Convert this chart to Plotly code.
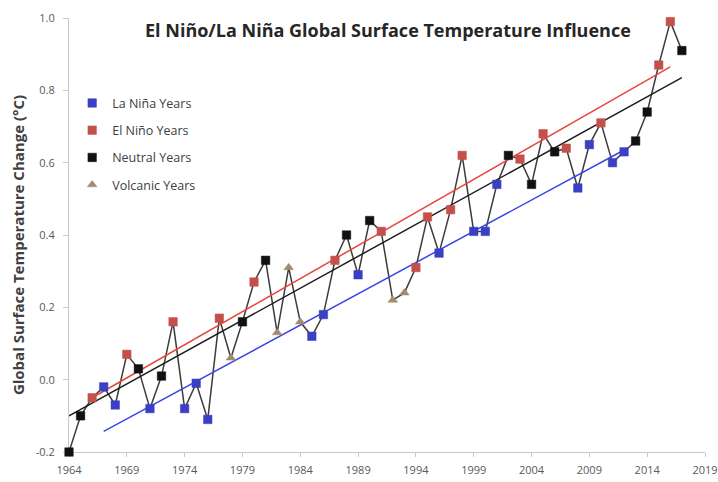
import plotly.graph_objects as go

# Annual global surface temperature change (deg C)
years = list(range(1964, 2018))
temps = [
    -0.20, -0.10, -0.05, -0.02, -0.07, 0.07, 0.03, -0.08, 0.01, 0.16,
    -0.08, -0.01, -0.11, 0.17, 0.06, 0.16, 0.27, 0.33, 0.13, 0.31,
    0.16, 0.12, 0.18, 0.33, 0.40, 0.29, 0.44, 0.41, 0.22, 0.24,
    0.31, 0.45, 0.35, 0.47, 0.62, 0.41, 0.41, 0.54, 0.62, 0.61,
    0.54, 0.68, 0.63, 0.64, 0.53, 0.65, 0.71, 0.60, 0.63, 0.66,
    0.74, 0.87, 0.99, 0.91,
]

# Year classification
la_nina_years = [1967, 1968, 1971, 1974, 1975, 1976, 1985, 1986, 1989, 1996,
                 1999, 2000, 2001, 2008, 2009, 2011, 2012]
el_nino_years = [1966, 1969, 1973, 1977, 1980, 1987, 1991, 1994, 1995, 1997,
                 1998, 2003, 2005, 2007, 2010, 2015, 2016]
neutral_years = [1964, 1965, 1970, 1972, 1979, 1981, 1988, 1990, 2002, 2004,
                 2006, 2013, 2014, 2017]
volcanic_years = [1978, 1982, 1983, 1984, 1992, 1993]

# Linear trend endpoints per category
la_nina_trend_years = [1967, 2012]
la_nina_trend_vals = [-0.143, 0.635]
el_nino_trend_years = [1966, 2016]
el_nino_trend_vals = [-0.05, 0.865]
neutral_trend_years = [1964, 2017]
neutral_trend_vals = [-0.10, 0.835]

x_ticks = list(range(1964, 2020, 5))
y_ticks = [-0.2, 0.0, 0.2, 0.4, 0.6, 0.8, 1.0]

lookup = dict(zip(years, temps))


def subset(sel):
    return sel, [lookup[y] for y in sel]


BLUE = "#3b3fc4"
RED = "#c4504c"
BLACK = "#111111"
TAN = "#a58a6e"

fig = go.Figure()

# connecting line through all years
fig.add_trace(go.Scatter(
    x=years, y=temps, mode="lines",
    line=dict(color="#3c3c3c", width=1.5),
    showlegend=False, hoverinfo="skip", cliponaxis=False,
))

# trend lines
for ty, tv, col in [
    (el_nino_trend_years, el_nino_trend_vals, "#e8463e"),
    (neutral_trend_years, neutral_trend_vals, "#1e1e1e"),
    (la_nina_trend_years, la_nina_trend_vals, "#3a46e6"),
]:
    fig.add_trace(go.Scatter(
        x=ty, y=tv, mode="lines", line=dict(color=col, width=1.5),
        showlegend=False, hoverinfo="skip",
    ))

groups = [
    ("La Niña Years", la_nina_years, BLUE, "square"),
    ("El Niño Years", el_nino_years, RED, "square"),
    ("Neutral Years", neutral_years, BLACK, "square"),
    ("Volcanic Years", volcanic_years, TAN, "triangle-up"),
]
for i, (name, sel, col, sym) in enumerate(groups):
    gx, gy = subset(sel)
    fig.add_trace(go.Scatter(
        x=gx, y=gy, mode="markers", name=name,
        marker=dict(color=col, symbol=sym, size=8.5,
                    line=dict(color=col, width=0.5)),
        legendgroup=f"g{i}", cliponaxis=False,
    ))

fig.update_layout(
    width=718, height=482,
    margin=dict(l=69, r=13, t=18, b=30, autoexpand=False),
    paper_bgcolor="white", plot_bgcolor="white",
    font=dict(family="Open Sans, Lato, sans-serif", color="#595959"),
    showlegend=True,
    legend=dict(
        x=0.005, y=0.838, xanchor="left", yanchor="top",
        bgcolor="rgba(0,0,0,0)",
        font=dict(size=12.5, color="#404040"),
        traceorder="grouped", tracegroupgap=8,
        itemwidth=30,
    ),
    xaxis=dict(
        range=[1964, 2019], tickmode="array", tickvals=x_ticks,
        ticktext=[str(t) for t in x_ticks],
        showgrid=False, zeroline=False, automargin=False,
        showline=True, linecolor="#c8c8c8", linewidth=1,
        ticks="outside", ticklen=4, tickcolor="#c8c8c8",
        ticklabelstandoff=4, layer="below traces",
        tickfont=dict(size=11, color="#595959"),
    ),
    yaxis=dict(
        range=[-0.2, 1.0], tickmode="array", tickvals=y_ticks,
        ticktext=[f"{v:.1f}" for v in y_ticks],
        showgrid=False, zeroline=False, automargin=False,
        showline=True, linecolor="#c8c8c8", linewidth=1,
        ticks="outside", ticklen=5, tickcolor="#c8c8c8",
        ticklabelstandoff=6, layer="below traces",
        tickfont=dict(size=11, color="#595959"),
    ),
    annotations=[
        dict(text="<b>El Niño/La Niña Global Surface Temperature Influence</b>",
             xref="paper", yref="paper", x=0.5016, y=0.972,
             xanchor="center", yanchor="middle", showarrow=False,
             font=dict(size=18, color="#262626")),
        dict(text="<b>Global Surface Temperature Change (°C)</b>",
             xref="paper", yref="paper", x=-0.080, y=0.477,
             xanchor="center", yanchor="middle", textangle=-90,
             showarrow=False, font=dict(size=15, color="#404040")),
    ],
)

fig.write_html("out.html")
